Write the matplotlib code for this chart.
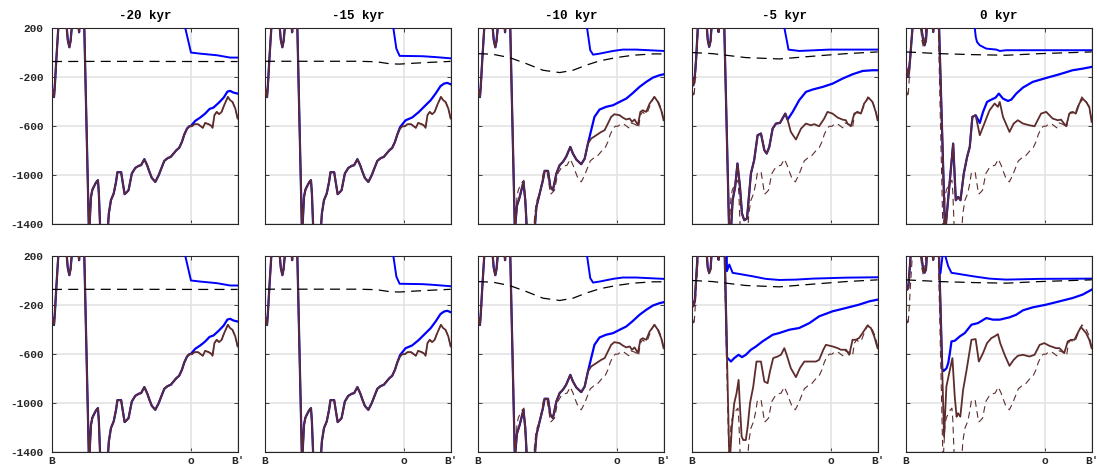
import matplotlib
matplotlib.use('Agg')
import matplotlib.pyplot as plt
import numpy as np

plt.rcParams['font.family'] = ['Liberation Mono', 'DejaVu Sans Mono']
plt.rcParams['axes.unicode_minus'] = False

TITLES = ['-20 kyr', '-15 kyr', '-10 kyr', '-5 kyr', '0 kyr']
X_TICKS = [0, 300, 400]
X_LABELS = ['B', 'o', "B'"]
Y_TICKS = [-1400, -1000, -600, -200, 200]

# bed along the transect (km, m); -20 kyr bed is also the dashed reference
bed_m20_x = [0, 2, 4.3, 6, 9, 13.6, 18, 25, 30, 31.7, 34, 37.4, 40, 42.6, 44, 50, 56, 58.4, 60, 65,
             69, 79.5, 81, 84, 87, 90, 95, 99, 101, 104, 110, 118, 121, 122.5, 127, 133, 138, 141, 149, 152,
             156.5, 161, 165, 172, 179.5, 187, 192, 199, 205, 210, 215, 222.6, 230, 235.5, 242, 249, 256, 262,
             268, 274, 280, 285, 291, 296, 301.5, 307, 314.5, 319.5, 325, 330, 337.5, 342.5, 346, 350, 355,
             360, 365.5, 371, 379, 384, 389, 395, 400]
bed_m20 = [-298, -330, -366, -280, -80, 200, 300, 320, 260, 200, 100, 40, 90, 200, 260, 300, 260, 162, 260, 320,
           300, -1450, -1400, -1178, -1120, -1096, -1060, -1042, -1150, -1450, -1500, -1500, -1400, -1313, -1205,
           -1150, -1056, -977, -977, -1050, -1156, -1140, -1123, -988, -942, -925, -920, -871, -920, -974, -1023,
           -1056, -1001, -947, -885, -863, -852, -825, -798, -779, -730, -671, -622, -603, -603, -586, -586, -600,
           -616, -576, -586, -597, -616, -513, -486, -505, -486, -432, -364, -391, -405, -459, -540]

bed_m10_x = [0, 2, 4.3, 6, 9, 13.6, 18, 25, 30, 31.7, 34, 37.4, 40, 42.6, 44, 50, 56, 58.4, 60, 65,
             69, 79.5, 84, 90, 98, 102, 105.5, 122, 126, 133, 140, 143.6, 151, 156, 161.5, 169, 176, 183, 190,
             199, 204.6, 212, 222.6, 230, 237, 244, 255, 265.7, 273, 280, 287, 294, 305, 312, 319.5, 327, 332,
             337.5, 344.6, 350, 355, 362.6, 370, 380.5, 387.7, 395, 400]
bed_m10 = [-298, -330, -366, -280, -80, 200, 300, 320, 260, 200, 100, 40, 90, 200, 260, 300, 260, 162, 260, 320,
           300, -1450, -1250, -1178, -1056, -1205, -1450, -1450, -1259, -1150, -1042, -966, -966, -1096, -1123,
           -988, -920, -893, -852, -771, -825, -874, -912, -866, -744, -703, -676, -649, -635, -581, -527, -505,
           -513, -532, -548, -540, -567, -548, -594, -486, -473, -486, -418, -364, -405, -473, -554]

bed_m5_x = [0, 3, 6, 9, 12.5, 18, 25, 30, 32, 34, 37, 40, 42, 44, 50, 55, 57, 59, 65, 69,
            80, 84, 87.6, 93, 98, 103.4, 107.7, 112.7, 118.5, 122, 127, 134, 141.4, 148.6, 156, 161, 166.6,
            173.8, 181, 189.6, 195, 201, 206, 213, 224, 235, 245.6, 256, 263.5, 274, 285, 292, 303, 313.8,
            324.5, 331.7, 335, 342.5, 349.7, 357, 364, 371, 380.5, 389, 396, 400]
bed_m5 = [-200, -270, -200, -50, 200, 300, 320, 260, 200, 100, 43, 90, 200, 260, 300, 260, 165, 260, 320, 300,
          -1450, -1450, -1205, -1096, -906, -1096, -1313, -1368, -1354, -1205, -988, -879, -676, -662, -798, -825,
          -771, -622, -581, -576, -540, -500, -549, -649, -711, -622, -581, -595, -586, -603, -540, -486, -500,
          -532, -549, -554, -581, -603, -500, -486, -500, -418, -370, -405, -486, -554]

bed_0_x = [0, 5, 8.6, 14, 18, 25, 30, 33, 37, 40, 43, 46, 52, 56, 58.7, 61, 66, 70.5, 84, 86,
           101.6, 107.3, 112.4, 117.4, 124.5, 131.7, 137.4, 143, 150, 159, 166, 173, 180, 191, 198, 202, 209,
           223, 232, 241, 252, 266, 277, 291, 302, 316, 327, 334, 345, 352, 359, 366, 373.5, 380.7, 388, 395, 400]
bed_0 = [-120, -201, -66, 200, 300, 320, 260, 200, 97, 56, 97, 260, 300, 260, 165, 260, 320, 300, -1450, -1400,
         -744, -1205, -1178, -1205, -988, -852, -771, -527, -513, -676, -608, -540, -473, -418, -445, -405, -527,
         -649, -581, -554, -581, -595, -603, -500, -486, -540, -554, -549, -603, -500, -486, -500, -418, -378,
         -405, -445, -567]

# second experiment (bottom row), -5 and 0 kyr beds
bed_m5b_x = [0, 3, 6, 12, 18, 25, 30, 32, 34, 37, 40, 42, 44, 50, 55, 57, 59, 65, 70, 80.4,
             82, 86, 91, 96, 100.5, 103, 107, 110.6, 116, 120, 125, 132, 139, 148.6, 156, 163, 168, 175, 184.5,
             191.7, 199, 204, 213, 224, 232.6, 242, 256, 267, 274, 283, 288.6, 303, 314, 321, 332, 339, 346,
             353, 360, 367.6, 378, 385.6, 392.7, 400]
bed_m5b = [-159, -213, -173, 200, 300, 320, 260, 200, 100, 59, 90, 200, 260, 300, 260, 167, 260, 320, 300, -1450,
           -1450, -1193, -1003, -921, -812, -1003, -1275, -1302, -1302, -1193, -1003, -867, -663, -663, -826,
           -839, -744, -635, -622, -608, -554, -608, -717, -790, -717, -663, -663, -663, -649, -567, -527, -540,
           -554, -567, -567, -608, -486, -486, -472, -431, -371, -390, -458, -554]

bed_0b_x = [0, 2.5, 5, 10, 18, 25, 30, 33, 37, 40, 43, 46, 52, 56, 58.7, 61, 66, 70.5, 82, 87,
            93, 100, 105, 109, 112, 117, 123, 130, 141, 150, 157, 166, 174.6, 184, 191, 198, 203, 212.5, 223,
            232, 241, 252, 266, 277, 288, 298, 309, 323.5, 330.6, 341, 348.5, 355.7, 363, 370, 377, 388, 395, 400]
bed_0b = [-37, -78, -60, 200, 300, 320, 260, 200, 86, 60, 86, 260, 300, 260, 165, 260, 320, 300, -1275, -867,
          -758, -635, -948, -1112, -1084, -1112, -894, -744, -486, -480, -663, -594, -513, -472, -458, -440, -513,
          -608, -698, -649, -616, -608, -622, -608, -527, -513, -535, -554, -554, -594, -499, -486, -486, -431,
          -382, -431, -486, -554]

# ice surface
surf_m20_x = [280, 287, 299.5, 319.5, 355.5, 384, 400]
surf_m20 = [314, 200, -3, -12, -25, -44, -44]
surf_m15_x = [272, 276.4, 283, 290, 310, 340, 367.6, 400]
surf_m15 = [320, 200, 29, -30, -31, -33, -40, -50]
surf_m10_x = [232, 235, 242, 248, 262, 291, 312, 341, 400]
surf_m10 = [320, 200, 16, -20, -12, 10, 21, 21, 10]
surf_m5_x = [197, 199, 208, 231, 296, 400]
surf_m5 = [300, 200, 21, 10, 21, 21]
surf_0_x = [147, 148.1, 150.3, 153, 159, 173, 194.6, 202, 216, 400]
surf_0 = [300, 200, 124, 83, 56, 29, 21, 10, 16, 16]
surf_m5b_x = [74.8, 75.4, 80.4, 87.6, 102, 130.7, 159, 188, 224, 260, 332, 400]
surf_m5b = [300, 72, 127, 59, 50, 31, 10, 1, 4, 12, 20, 23]
surf_0b_x = [74.4, 78.7, 81.5, 84.4, 90.9, 98, 109, 144.5, 180, 216, 288, 400]
surf_0b = [59, 200, 230, 200, 113, 59, 53, 31, 12, 4, 10, 12]

# ice-shelf base (floating part, starts at grounding line)
base_m20_x = [299.5, 308.7, 319.5, 330, 339.6, 348, 359, 370, 378, 384, 391, 400]
base_m20 = [-600, -559, -532, -500, -462, -451, -413, -370, -321, -315, -329, -337]
base_m15_x = [291, 303, 317, 331.7, 346, 357, 367.6, 378, 385.6, 392.7, 400]
base_m15 = [-610, -554, -532, -486, -432, -391, -337, -277, -256, -250, -261]
base_m10_x = [237, 244, 251, 262, 276, 291, 305, 319.5, 334, 348, 362.6, 377, 391, 400]
base_m10 = [-744, -635, -527, -467, -445, -432, -405, -378, -332, -283, -242, -207, -188, -180]
base_m5_x = [206, 217, 231, 245.6, 260, 281.5, 303, 324.5, 346, 367.6, 389, 400]
base_m5 = [-549, -486, -391, -323, -304, -283, -256, -215, -180, -153, -147, -147]
base_0_x = [159, 166, 174.6, 184, 193, 200, 209, 219.7, 227, 237.6, 252, 273, 302, 330.6, 359, 380.7, 400]
base_0 = [-576, -486, -405, -386, -370, -337, -378, -397, -386, -337, -288, -242, -210, -180, -147, -134, -120]
base_m5b_x = [75.5, 84, 91, 100.5, 107.7, 116, 127, 138, 152, 174, 188, 209.7, 231, 253, 274, 303, 332, 360,
              382, 400]
base_m5b = [-630, -663, -635, -608, -627, -608, -567, -540, -499, -445, -431, -404, -390, -350, -295, -254, -227,
            -200, -173, -159]
base_0b_x = [78, 81, 83.7, 87.3, 91, 94.5, 98, 105, 116, 126.7, 141, 155, 173, 187.5, 202, 223, 237.6, 252, 273,
             302, 330.6, 359, 380.7, 400]
base_0b = [-720, -740, -731, -717, -676, -594, -499, -494, -458, -431, -363, -350, -309, -322, -322, -303, -282,
           -246, -222, -200, -173, -146, -118, -78]

# relative sea level
sea_m20_x = [0, 100, 200, 300, 400]
sea_m20 = [-76, -75, -75, -76, -76]
sea_m15_x = [0, 100, 200, 240, 270, 290, 320, 360, 400]
sea_m15 = [-74, -74, -74, -78, -95, -97, -90, -82, -75]
sea_m10_x = [0, 32, 68, 104, 140, 176, 205, 233, 262, 298, 334, 377, 400]
sea_m10 = [-12, -17, -44, -93, -147, -166, -147, -106, -71, -44, -25, -14, -14]
sea_m5_x = [0, 44.5, 116, 188, 260, 332, 400]
sea_m5 = [-3, -12, -44, -55, -33, -12, 2]
sea_0_x = [0, 73, 144.5, 216, 288, 400]
sea_0 = [2, -12, -20, -25, -12, 2]

BROWN = '#5e2c2c'
BLUE = '#0000ff'

rows = [
    [(bed_m20_x, bed_m20), (bed_m20_x, bed_m20), (bed_m10_x, bed_m10), (bed_m5_x, bed_m5), (bed_0_x, bed_0)],
    [(bed_m20_x, bed_m20), (bed_m20_x, bed_m20), (bed_m10_x, bed_m10), (bed_m5b_x, bed_m5b), (bed_0b_x, bed_0b)],
]
surfs = [
    [(surf_m20_x, surf_m20), (surf_m15_x, surf_m15), (surf_m10_x, surf_m10), (surf_m5_x, surf_m5), (surf_0_x, surf_0)],
    [(surf_m20_x, surf_m20), (surf_m15_x, surf_m15), (surf_m10_x, surf_m10), (surf_m5b_x, surf_m5b), (surf_0b_x, surf_0b)],
]
bases = [
    [(base_m20_x, base_m20), (base_m15_x, base_m15), (base_m10_x, base_m10), (base_m5_x, base_m5), (base_0_x, base_0)],
    [(base_m20_x, base_m20), (base_m15_x, base_m15), (base_m10_x, base_m10), (base_m5b_x, base_m5b), (base_0b_x, base_0b)],
]
seas = [(sea_m20_x, sea_m20), (sea_m15_x, sea_m15), (sea_m10_x, sea_m10), (sea_m5_x, sea_m5), (sea_0_x, sea_0)]

fig = plt.figure(figsize=(10.97, 4.68), dpi=100)
lefts = [0.0474, 0.2416, 0.4357, 0.6308, 0.8259]
bottoms = [0.521, 0.034]
width, height = 0.1692, 0.420

for r in range(2):
    for c in range(5):
        ax = fig.add_axes([lefts[c], bottoms[r], width, height])
        bx, by = np.array(rows[r][c][0]), np.array(rows[r][c][1])
        sx, sy = surfs[r][c]
        fx, fy = bases[r][c]
        lx, ly = seas[c]

        # ice base: follows the bed where grounded, then the shelf base
        keep = bx < fx[0]
        ax.plot(np.concatenate([bx[keep], fx]), np.concatenate([by[keep], fy]),
                color=BLUE, lw=1.6, zorder=2)
        ax.plot(bed_m20_x, bed_m20, color=BROWN, lw=0.8, ls=(0, (6, 4)), zorder=2.5)
        ax.plot(bx, by, color=BROWN, lw=1.3, zorder=3)
        ax.plot(sx, sy, color=BLUE, lw=1.4, zorder=3)
        ax.plot(lx, ly, color='black', lw=0.9, ls=(0, (8, 5)), zorder=4)

        ax.set_xlim(0, 400)
        ax.set_ylim(-1400, 200)
        ax.set_xticks(X_TICKS)
        ax.set_yticks(Y_TICKS)
        ax.grid(True, color='#e2e2e2', lw=1.1, zorder=0)
        ax.set_axisbelow(True)
        ax.tick_params(direction='in', length=3, width=0.6, top=True, right=True,
                       labelsize=8, pad=6, colors='#262626')
        ax.tick_params(axis='x', pad=3)
        for lab in ax.get_xticklabels() + ax.get_yticklabels():
            lab.set_fontweight('bold')
        if r == 1:
            ax.set_xticklabels(X_LABELS)
        else:
            ax.set_xticklabels([])
            ax.set_title(TITLES[c], fontsize=9, fontweight='bold', pad=6)
        if c > 0:
            ax.set_yticklabels([])
        for sp in ax.spines.values():
            sp.set_color('#262626')
            sp.set_linewidth(0.8)

plt.savefig('out.png', dpi=100)
